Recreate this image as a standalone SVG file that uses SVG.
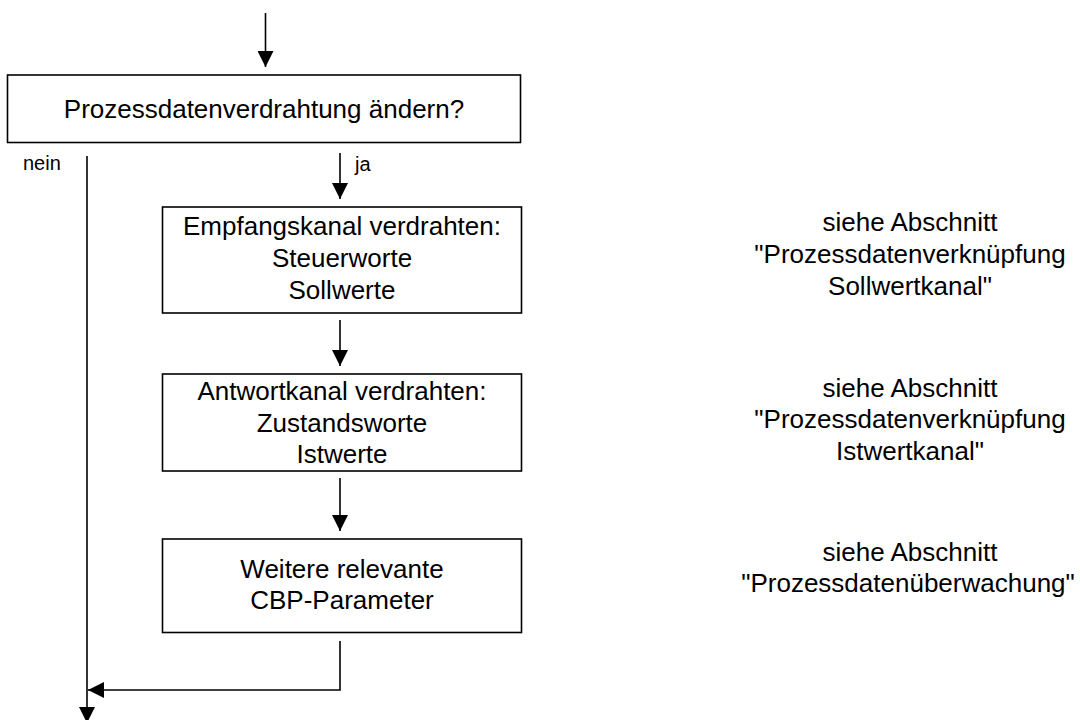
<svg xmlns="http://www.w3.org/2000/svg" width="1080" height="720" viewBox="0 0 1080 720">
<style>
.box{fill:#fff;stroke:#000;stroke-width:1.6}
.ln{fill:none;stroke:#000;stroke-width:1.6}
.t{font-family:"Liberation Sans",Arial,sans-serif;font-size:26px;fill:#000;text-anchor:middle}
.s{font-family:"Liberation Sans",Arial,sans-serif;font-size:20px;fill:#000}
</style>
<defs>
<marker id="ah" viewBox="0 0 16 16" refX="16" refY="8" markerWidth="16" markerHeight="16" markerUnits="userSpaceOnUse" orient="auto">
<path d="M0,0 L16,8 L0,16 Z" fill="#000"/>
</marker>
</defs>
<rect width="1080" height="720" fill="#fff"/>
<g id="connectors">
<line class="ln" x1="265.5" y1="13" x2="265.5" y2="67" marker-end="url(#ah)"/>
<line class="ln" x1="340" y1="153" x2="340" y2="199" marker-end="url(#ah)"/>
<line class="ln" x1="340" y1="320" x2="340" y2="366" marker-end="url(#ah)"/>
<line class="ln" x1="340" y1="478" x2="340" y2="531" marker-end="url(#ah)"/>
<polyline class="ln" points="340,641 340,690 88,690" marker-end="url(#ah)"/>
<line class="ln" x1="87" y1="156" x2="87" y2="723" marker-end="url(#ah)"/>
<text class="s" x="23" y="170">nein</text>
<text class="s" x="355" y="171">ja</text>
</g>
<g id="n1">
<rect class="box" x="7.5" y="75" width="513" height="67.5"/>
<text class="t" x="264" y="118">Prozessdatenverdrahtung ändern?</text>
</g>
<g id="n2">
<rect class="box" x="162.5" y="207" width="359" height="106"/>
<text class="t" x="342" y="235">Empfangskanal verdrahten:</text>
<text class="t" x="342" y="267">Steuerworte</text>
<text class="t" x="342" y="299">Sollwerte</text>
</g>
<g id="n3">
<rect class="box" x="162.5" y="374" width="359" height="97"/>
<text class="t" x="342" y="400">Antwortkanal verdrahten:</text>
<text class="t" x="342" y="431.5">Zustandsworte</text>
<text class="t" x="342" y="463">Istwerte</text>
</g>
<g id="n4">
<rect class="box" x="162.5" y="539" width="359" height="93.5"/>
<text class="t" x="342" y="578">Weitere relevante</text>
<text class="t" x="342" y="609">CBP-Parameter</text>
</g>
<g id="note1">
<text class="t" x="910" y="231">siehe Abschnitt</text>
<text class="t" x="910" y="263">"Prozessdatenverknüpfung</text>
<text class="t" x="910" y="295">Sollwertkanal"</text>
</g>
<g id="note2">
<text class="t" x="910" y="397">siehe Abschnitt</text>
<text class="t" x="910" y="428">"Prozessdatenverknüpfung</text>
<text class="t" x="910" y="460">Istwertkanal"</text>
</g>
<g id="note3">
<text class="t" x="910" y="561">siehe Abschnitt</text>
<text class="t" x="908" y="592">"Prozessdatenüberwachung"</text>
</g>
</svg>
